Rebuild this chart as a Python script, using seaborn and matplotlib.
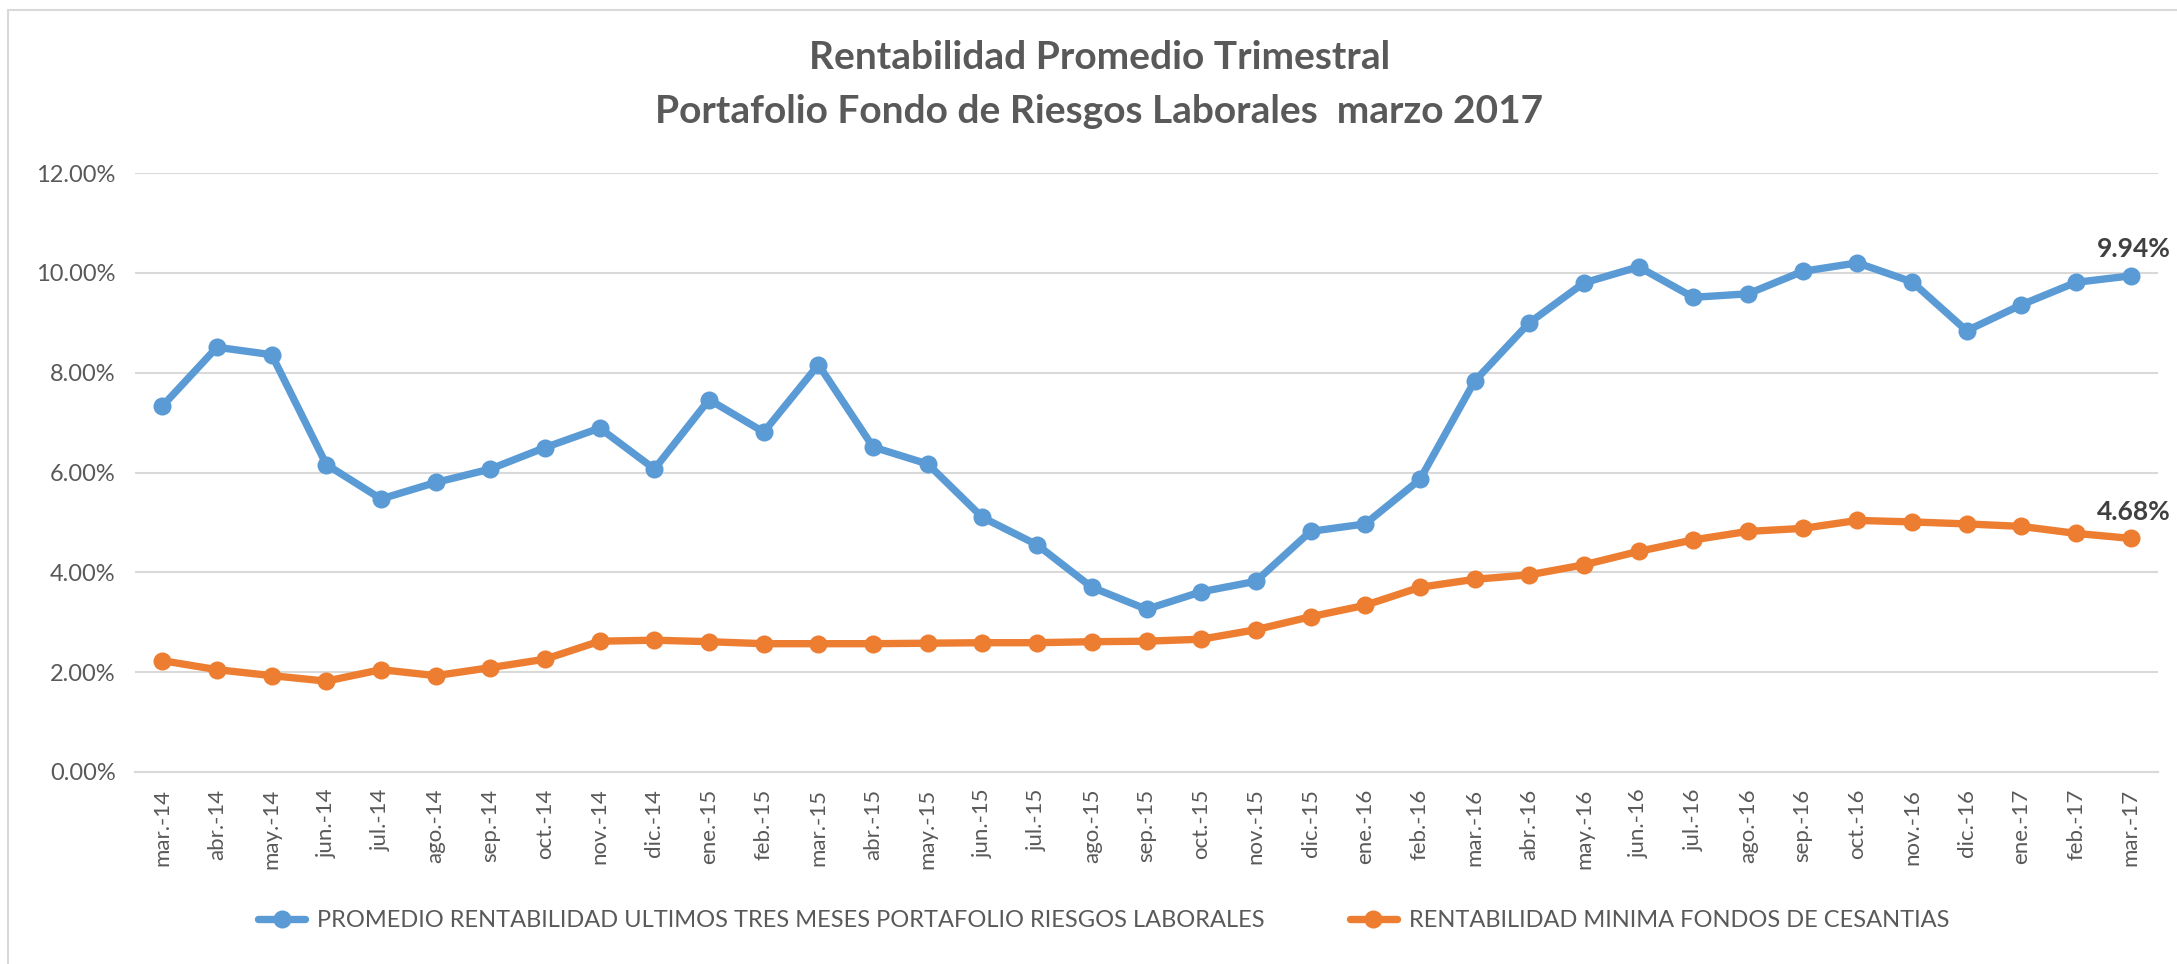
import matplotlib
matplotlib.use("Agg")
from matplotlib import pyplot as plt
from matplotlib.patches import Rectangle
from matplotlib.ticker import FuncFormatter, FixedLocator
import seaborn as sns
import numpy as np
import pandas as pd

sns.set_style('white')
plt.rcParams['font.family'] = ['Lato', 'DejaVu Sans']

meses = ['mar.-14', 'abr.-14', 'may.-14', 'jun.-14', 'jul.-14', 'ago.-14', 'sep.-14',
         'oct.-14', 'nov.-14', 'dic.-14', 'ene.-15', 'feb.-15', 'mar.-15', 'abr.-15',
         'may.-15', 'jun.-15', 'jul.-15', 'ago.-15', 'sep.-15', 'oct.-15', 'nov.-15',
         'dic.-15', 'ene.-16', 'feb.-16', 'mar.-16', 'abr.-16', 'may.-16', 'jun.-16',
         'jul.-16', 'ago.-16', 'sep.-16', 'oct.-16', 'nov.-16', 'dic.-16', 'ene.-17',
         'feb.-17', 'mar.-17']

riesgos = [7.33, 8.51, 8.36, 6.16, 5.47, 5.80, 6.07, 6.50, 6.89, 6.07, 7.46, 6.81,
           8.16, 6.51, 6.17, 5.10, 4.55, 3.70, 3.26, 3.61, 3.82, 4.82, 4.97, 5.86,
           7.83, 9.00, 9.80, 10.12, 9.51, 9.58, 10.03, 10.20, 9.82, 8.84, 9.36, 9.81,
           9.94]

cesantias = [2.23, 2.05, 1.93, 1.82, 2.05, 1.93, 2.09, 2.26, 2.62, 2.64, 2.61, 2.57,
             2.57, 2.57, 2.58, 2.59, 2.59, 2.61, 2.62, 2.66, 2.85, 3.11, 3.34, 3.70,
             3.86, 3.95, 4.15, 4.42, 4.65, 4.82, 4.88, 5.04, 5.01, 4.97, 4.92, 4.78,
             4.68]

serie1 = 'PROMEDIO RENTABILIDAD ULTIMOS TRES MESES PORTAFOLIO RIESGOS LABORALES'
serie2 = 'RENTABILIDAD MINIMA FONDOS DE CESANTIAS'

df = pd.concat([
    pd.DataFrame({'mes': meses, 'valor': riesgos, 'serie': serie1}),
    pd.DataFrame({'mes': meses, 'valor': cesantias, 'serie': serie2}),
])

gris = '#595959'
fig = plt.figure(figsize=(21.77, 9.64), dpi=100)
ax = fig.add_axes([0.062, 0.1992, 0.9293, 0.6213])

sns.lineplot(data=df, x='mes', y='valor', hue='serie', sort=False,
             palette=['#5B9BD5', '#ED7D31'], marker='o', markersize=13,
             markeredgewidth=0, linewidth=5.3, ax=ax)

ax.set_xlim(-0.5, len(meses) - 0.5)
ax.set_ylim(0, 12)
ax.yaxis.set_major_locator(FixedLocator(np.arange(0, 12.1, 2)))
ax.yaxis.set_major_formatter(FuncFormatter(lambda v, p: f'{v:.2f}%'))
ax.grid(axis='y', color='#D9D9D9', linewidth=1.5)
ax.set_axisbelow(True)
for s in ['top', 'right', 'left']:
    ax.spines[s].set_visible(False)
ax.spines['bottom'].set_color('#D9D9D9')
ax.spines['bottom'].set_linewidth(1.5)

ax.set_xticks(range(len(meses)))
ax.set_xticklabels(meses, rotation=90)
ax.set_xticks(np.arange(-0.5, len(meses), 1), minor=True)
ax.tick_params(axis='x', which='major', length=0, pad=12, labelsize=16, labelcolor=gris)
ax.tick_params(axis='x', which='minor', length=9, width=1.5, color='#D9D9D9')
ax.tick_params(axis='y', length=0, pad=14, labelsize=17, labelcolor=gris)
ax.set_xlabel('')
ax.set_ylabel('')

for serie_vals in [riesgos, cesantias]:
    ax.annotate(f'{serie_vals[-1]:.2f}%', (len(meses) - 1, serie_vals[-1]),
                xytext=(29, 19), textcoords='offset points', ha='right', va='center',
                fontsize=19, fontweight='bold', color='#404040', annotation_clip=False)

fig.text(0.505, 0.94, 'Rentabilidad Promedio Trimestral', ha='center', va='center',
         fontsize=28, fontweight='bold', color=gris)
fig.text(0.505, 0.884, 'Portafolio Fondo de Riesgos Laborales  marzo 2017', ha='center',
         va='center', fontsize=28, fontweight='bold', color=gris)

handles, labels = ax.get_legend_handles_labels()
ax.legend_.remove()
fig.legend(handles, labels, loc='center', bbox_to_anchor=(0.507, 0.045), ncol=2,
           frameon=False, fontsize=17, labelcolor=gris, handlelength=2.0,
           handletextpad=0.5, columnspacing=3.6)

fig.patches.append(Rectangle((8 / 2177, -0.01), 1.0, 1 - 10 / 964 + 0.01,
                             transform=fig.transFigure, fill=False,
                             edgecolor='#D9D9D9', linewidth=1.5))

fig.savefig('out.png', dpi=100)
